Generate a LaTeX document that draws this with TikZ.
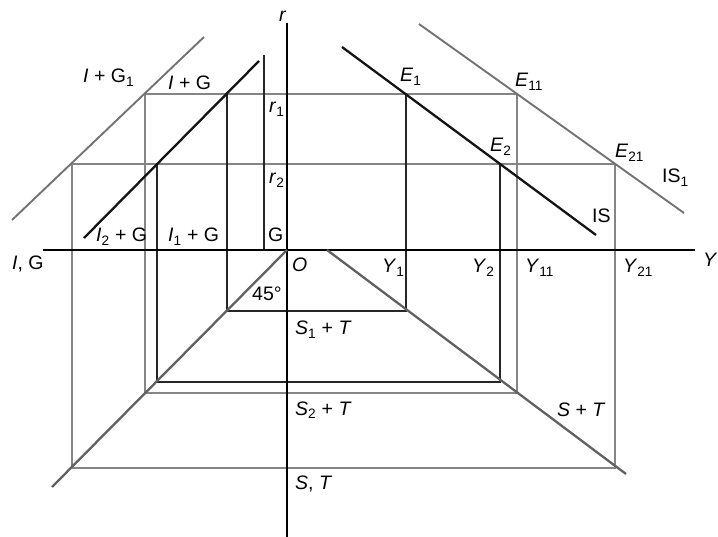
\documentclass[tikz,border=0pt]{standalone}
\usepackage{fontspec}
\setmainfont{Liberation Sans}
\begin{document}
\begin{tikzpicture}[x=1pt,y=-1pt,
  blk/.style={line width=1.1pt, draw=black!85},
  gry/.style={line width=1.1pt, draw=black!48},
  bigblk/.style={line width=2.3pt, draw=black!92},
  biggry/.style={line width=2.3pt, draw=black!62},
  midgry/.style={line width=1.9pt, draw=black!55},
  axis/.style={line width=1.2pt, draw=black},
  lab/.style={anchor=base west, inner sep=0pt, font=\fontsize{19.5}{22}\selectfont}
]
\useasboundingbox (0,0) rectangle (718,537);
% axes
\coordinate (O) at (287,250);
\coordinate (rtop) at (287,23);
\coordinate (rbot) at (287,537);
\coordinate (xl) at (43,250);
\coordinate (xr) at (695,250);
% curves
\coordinate (IGa) at (84,238);   \coordinate (IGb) at (259,61);
\coordinate (IGoa) at (12,220);  \coordinate (IGob) at (204,37);
\coordinate (ISa) at (342,47);   \coordinate (ISb) at (596,235);
\coordinate (ISoa) at (419,24);  \coordinate (ISob) at (684,213);
\coordinate (D45) at (52,487);
\coordinate (STa) at (327,250);  \coordinate (STb) at (626,474);
% grid points
\coordinate (a1) at (145,94);  \coordinate (a2) at (517,94);
\coordinate (a3) at (145,393); \coordinate (a4) at (517,393);
\coordinate (b1) at (72,164);  \coordinate (b2) at (615,164);
\coordinate (b3) at (72,468);  \coordinate (b4) at (615,468);
\coordinate (c1) at (227,94);  \coordinate (c2) at (406,94);
\coordinate (c3) at (227,311); \coordinate (c4) at (406,311);
\coordinate (d1) at (157,164); \coordinate (d2) at (500,164);
\coordinate (d3) at (157,382); \coordinate (d4) at (500,382);
\coordinate (g1) at (264,55);  \coordinate (g2) at (264,250);

% gray construction lines
\draw[gry] (a1) -- (a2) -- (a4) -- (a3) -- cycle;
\draw[gry] (b1) -- (b2) -- (b4) -- (b3) -- cycle;
% black construction lines
\draw[blk] (c1) -- (c3) -- (c4) -- (c2);
\draw[blk] (d1) -- (d3) -- (d4) -- (d2);
\draw[blk] (g1) -- (g2);
% axes
\draw[axis] (rtop) -- (rbot);
\draw[axis] (xl) -- (xr);
% schedules
\draw[midgry] (IGoa) -- (IGob);
\draw[midgry] (ISoa) -- (ISob);
\draw[biggry] (O) -- (D45);
\draw[biggry] (STa) -- (STb);
\draw[bigblk] (IGa) -- (IGb);
\draw[bigblk] (ISa) -- (ISb);

% labels
\node[lab] (lr) at (279,22) {\textit{r}};
\node[lab] (lY) at (703,267) {\textit{Y}};
\node[lab] (lIG) at (12,270) {\textit{I}, G};
\node[lab] (lIG1) at (83,83) {\textit{I} + G\textsubscript{1}};
\node[lab] (lIGc) at (168,90) {\textit{I} + G};
\node[lab] (lr1) at (269,113) {\textit{r}\textsubscript{1}};
\node[lab] (lr2) at (269,184) {\textit{r}\textsubscript{2}};
\node[lab] (lG) at (268,242) {G};
\node[lab] (lI2) at (96,242) {\textit{I}\textsubscript{2} + G};
\node[lab] (lI1) at (168,242) {\textit{I}\textsubscript{1} + G};
\node[lab] (lO) at (292,272) {\textit{O}};
\node[lab] (l45) at (252,301) {45°};
\node[lab] (lS1) at (295,335) {\textit{S}\textsubscript{1} + \textit{T}};
\node[lab] (lS2) at (295,415) {\textit{S}\textsubscript{2} + \textit{T}};
\node[lab] (lST) at (295,489) {\textit{S}, \textit{T}};
\node[lab] (lY1) at (382,273) {\textit{Y}\textsubscript{1}};
\node[lab] (lY2) at (472,273) {\textit{Y}\textsubscript{2}};
\node[lab] (lY11) at (525,273) {\textit{Y}\textsubscript{11}};
\node[lab] (lY21) at (623,273) {\textit{Y}\textsubscript{21}};
\node[lab] (lSpT) at (557,417) {\textit{S} + \textit{T}};
\node[lab] (lE1) at (400,82) {\textit{E}\textsubscript{1}};
\node[lab] (lE11) at (515,87) {\textit{E}\textsubscript{11}};
\node[lab] (lE2) at (490,152) {\textit{E}\textsubscript{2}};
\node[lab] (lE21) at (615,158) {\textit{E}\textsubscript{21}};
\node[lab] (lIS1) at (662,183) {IS\textsubscript{1}};
\node[lab] (lIS) at (592,223) {IS};
\end{tikzpicture}
\end{document}
